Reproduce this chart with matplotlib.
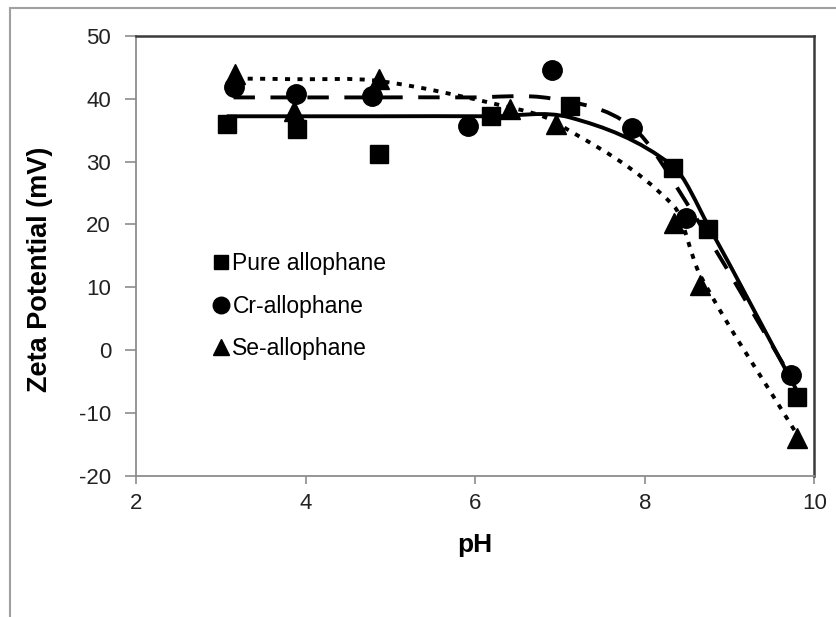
import numpy as np
import matplotlib
matplotlib.use("Agg")
import matplotlib.pyplot as plt
from matplotlib.path import Path
from matplotlib.patches import PathPatch, Rectangle

plt.rcParams['font.family'] = ['Liberation Sans', 'DejaVu Sans']
plt.rcParams['axes.unicode_minus'] = False

# measured zeta potentials
ph_pure = [3.07, 3.90, 4.86, 6.19, 7.12, 8.33, 8.75, 9.80]
zeta_pure = [36.0, 35.2, 31.2, 37.2, 38.8, 29.0, 19.2, -7.4]

ph_cr = [3.15, 3.89, 4.78, 5.92, 6.91, 7.85, 8.49, 9.72]
zeta_cr = [41.9, 40.7, 40.4, 35.6, 44.6, 35.3, 21.1, -3.9]

ph_se = [3.17, 3.86, 4.87, 6.41, 6.95, 8.35, 8.65, 9.80]
zeta_se = [43.9, 38.0, 43.1, 38.4, 36.0, 20.3, 10.4, -14.0]

# model (fitted) values at the measured pH
fit_pure = [37.2, 37.2, 37.2, 37.2, 37.0, 29.3, 19.8, -6.6]
fit_cr = [40.2, 40.2, 40.2, 40.2, 40.0, 35.5, 23.5, -4.2]
fit_se = [43.2, 43.1, 42.8, 38.6, 36.2, 22.8, 12.0, -13.5]

labels = ['Pure allophane', 'Cr-allophane', 'Se-allophane']


def smooth_path(x, y):
    """Cubic Hermite path through the points (smoothed line)."""
    x = np.asarray(x, float)
    y = np.asarray(y, float)
    n = len(x)
    slope = np.empty(n)
    slope[0] = (y[1] - y[0]) / (x[1] - x[0])
    slope[-1] = (y[-1] - y[-2]) / (x[-1] - x[-2])
    slope[1:-1] = (y[2:] - y[:-2]) / (x[2:] - x[:-2])
    verts = [(x[0], y[0])]
    codes = [Path.MOVETO]
    for i in range(n - 1):
        h = (x[i + 1] - x[i]) / 3.0
        verts += [(x[i] + h, y[i] + h * slope[i]),
                  (x[i + 1] - h, y[i + 1] - h * slope[i + 1]),
                  (x[i + 1], y[i + 1])]
        codes += [Path.CURVE4] * 3
    return Path(verts, codes)


fig = plt.figure(figsize=(8.37, 6.17), dpi=100)
ax = fig.add_axes([0.1625, 0.2285, 0.8105, 0.7135])

# light frame round the chart area
fig.patches.append(Rectangle((10 / 837, -0.05), 1.2, 1 - 8 / 617 + 0.05,
                             transform=fig.transFigure, fill=False,
                             edgecolor='#a0a0a0', linewidth=1.5))

line_styles = [
    (ph_pure, fit_pure, (0, ())),
    (ph_cr, fit_cr, (0, (5.5, 4.0))),
    (ph_se, fit_se, (0, (1.3, 1.9))),
]
for ph, fit, dash in line_styles:
    patch = PathPatch(smooth_path(ph, fit), facecolor='none', edgecolor='black',
                      linewidth=2.8, capstyle='butt', linestyle=dash)
    ax.add_patch(patch)

ax.plot(ph_pure, zeta_pure, 's', color='black', markersize=12.5,
        linestyle='none', label=labels[0])
ax.plot(ph_cr, zeta_cr, 'o', color='black', markersize=14,
        linestyle='none', label=labels[1])
ax.plot(ph_se, zeta_se, '^', color='black', markersize=14,
        linestyle='none', label=labels[2])

ax.set_xlim(2, 10)
ax.set_ylim(-20, 50)
ax.set_xticks([2, 4, 6, 8, 10])
ax.set_yticks(range(-20, 51, 10))
ax.tick_params(direction='out', width=1.2, color='#8c8c8c',
               labelsize=16, labelcolor='#222222')
ax.tick_params(axis='y', length=8, pad=10)
ax.tick_params(axis='x', length=6, pad=6)

for side in ['left', 'bottom']:
    ax.spines[side].set_color('#8c8c8c')
    ax.spines[side].set_linewidth(1.3)
for side in ['top', 'right']:
    ax.spines[side].set_color('#3a3a3a')
    ax.spines[side].set_linewidth(1.8)

ax.set_xlabel('pH', fontsize=19, fontweight='bold')
ax.set_ylabel('Zeta Potential (mV)', fontsize=19.5, fontweight='bold')
ax.xaxis.set_label_coords(0.5, -0.157)
ax.yaxis.set_label_coords(-0.142, 0.47)
ax.xaxis.label.set_verticalalignment('center')
ax.yaxis.label.set_verticalalignment('center')

ax.legend(loc='upper left', bbox_to_anchor=(0.113, 0.508), frameon=False,
          fontsize=16.5, handlelength=0.7, handletextpad=0.16,
          labelspacing=0.85, markerscale=0.85, borderpad=0, borderaxespad=0)

fig.savefig('out.png', dpi=100)
